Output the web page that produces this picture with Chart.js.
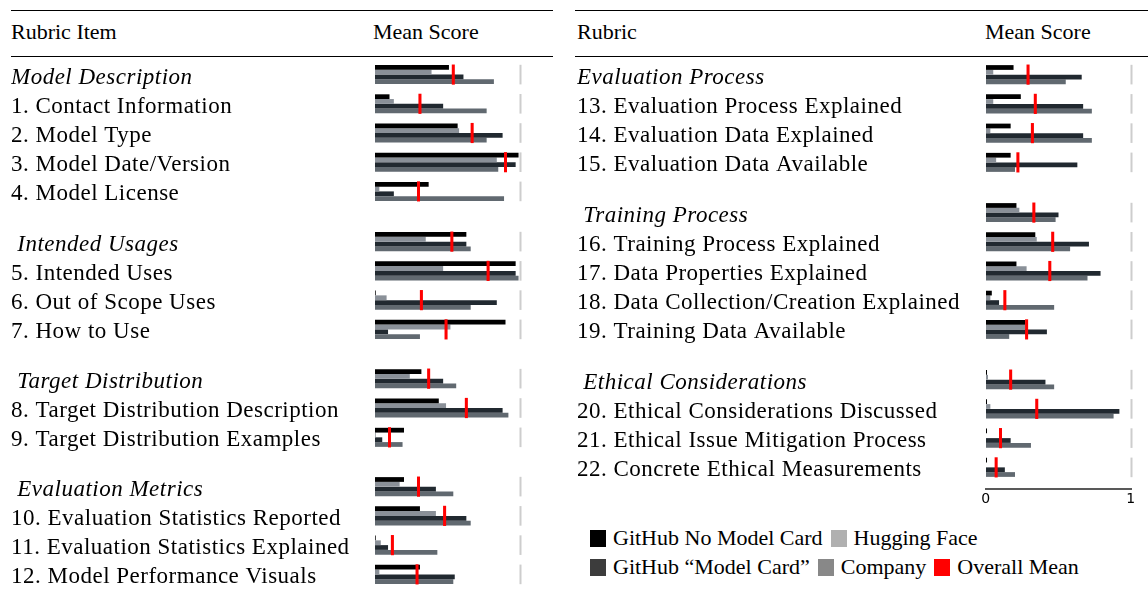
<!DOCTYPE html>
<html>
<head>
<meta charset="utf-8">
<script src="https://cdn.jsdelivr.net/npm/chart.js@4.4.0/dist/chart.umd.min.js"></script>
<style>
  body { margin: 0; width: 1148px; height: 592px; position: relative; overflow: hidden; background: #fff;
         font-family: "Liberation Serif", serif; color: #000; }
  .rule { position: absolute; background: #000; }
  .hdr { position: absolute; font-size: 22px; line-height: 22px; white-space: nowrap; }
  canvas { position: absolute; }
  .legend { position: absolute; left: 590px; font-size: 22px; line-height: 22px; display: flex; align-items: center; white-space: nowrap; }
  .legend .sw { width: 16px; height: 17px; margin-right: 7px; }
  .legend .tx { margin-right: 8px; }
</style>
</head>
<body>
<div class="rule" style="left:11px;top:9.5px;width:542px;height:1.6px"></div>
<div class="rule" style="left:11px;top:56px;width:542px;height:1px"></div>
<div class="rule" style="left:575px;top:9.5px;width:573px;height:1.6px"></div>
<div class="rule" style="left:575px;top:56px;width:573px;height:1px"></div>
<div class="hdr" style="left:11px;top:21px">Rubric Item</div>
<div class="hdr" style="left:373px;top:21px">Mean Score</div>
<div class="hdr" style="left:577px;top:21px">Rubric</div>
<div class="hdr" style="left:985px;top:21px">Mean Score</div>

<div class="legend" style="top:527px">
  <div class="sw" style="background:#000000"></div><span class="tx">GitHub No Model Card</span>
  <div class="sw" style="background:#b0b0b0"></div><span class="tx">Hugging Face</span>
</div>
<div class="legend" style="top:556px">
  <div class="sw" style="background:#3c3c3c"></div><span class="tx">GitHub “Model Card”</span>
  <div class="sw" style="background:#888888"></div><span class="tx">Company</span>
  <div class="sw" style="background:#ff0000"></div><span class="tx">Overall Mean</span>
</div>

<script>
// left table
const leftLabels = [
  "Model Description", "1. Contact Information", "2. Model Type", "3. Model Date/Version", "4. Model License",
  " Intended Usages", "5. Intended Uses", "6. Out of Scope Uses", "7. How to Use",
  " Target Distribution", "8. Target Distribution Description", "9. Target Distribution Examples",
  " Evaluation Metrics", "10. Evaluation Statistics Reported", "11. Evaluation Statistics Explained", "12. Model Performance Visuals"
];
const leftGroupSizes = [5, 4, 3, 4];
const leftNoCard  = [0.51, 0.10, 0.57, 0.99, 0.37, 0.63, 0.97, 0.005, 0.90, 0.32, 0.44, 0.20, 0.20, 0.31, 0.005, 0.31];
const leftHF      = [0.39, 0.13, 0.58, 0.84, 0.03, 0.35, 0.47, 0.08, 0.52, 0.24, 0.49, 0.005, 0.17, 0.42, 0.04, 0.03];
const leftGhCard  = [0.61, 0.47, 0.88, 0.97, 0.13, 0.63, 0.97, 0.84, 0.09, 0.47, 0.88, 0.05, 0.42, 0.63, 0.09, 0.55];
const leftCompany = [0.82, 0.77, 0.77, 0.85, 0.89, 0.66, 0.99, 0.66, 0.31, 0.56, 0.92, 0.19, 0.54, 0.66, 0.43, 0.54];
const leftMean    = [0.54, 0.31, 0.67, 0.90, 0.30, 0.53, 0.78, 0.32, 0.49, 0.37, 0.63, 0.10, 0.30, 0.48, 0.12, 0.29];

// right table
const rightLabels = [
  "Evaluation Process", "13. Evaluation Process Explained", "14. Evaluation Data Explained", "15. Evaluation Data Available",
  " Training Process", "16. Training Process Explained", "17. Data Properties Explained", "18. Data Collection/Creation Explained", "19. Training Data Available",
  " Ethical Considerations", "20. Ethical Considerations Discussed", "21. Ethical Issue Mitigation Process", "22. Concrete Ethical Measurements"
];
const rightGroupSizes = [4, 5, 4];
const rightNoCard  = [0.19, 0.24, 0.17, 0.17, 0.21, 0.34, 0.21, 0.04, 0.27, 0.007, 0.007, 0.007, 0.007];
const rightHF      = [0.05, 0.05, 0.03, 0.07, 0.23, 0.35, 0.28, 0.03, 0.27, 0.014, 0.03, 0, 0];
const rightGhCard  = [0.66, 0.67, 0.67, 0.63, 0.50, 0.71, 0.79, 0.09, 0.42, 0.41, 0.92, 0.17, 0.13];
const rightCompany = [0.55, 0.73, 0.73, 0.20, 0.48, 0.58, 0.70, 0.47, 0.16, 0.47, 0.88, 0.31, 0.20];
const rightMean    = [0.29, 0.34, 0.32, 0.22, 0.33, 0.46, 0.44, 0.13, 0.28, 0.17, 0.35, 0.10, 0.07];

const axisTicks = [0, 1];

Chart.defaults.font.family = "'Liberation Serif', serif";
Chart.defaults.color = "#000";

const ROW = 29.2;

// light grey end marker at 1 on every row
const maxMarker = {
  id: "maxMarker",
  beforeDraw(chart) {
    chart.ctx.letterSpacing = "0.5px"; // row labels run a bit wider in the original
  },
  afterDatasetsDraw(chart) {
    const { ctx, scales: { x, y } } = chart;
    const px = x.getPixelForValue(1);
    ctx.save();
    ctx.fillStyle = "#cdcdcd";
    chart.data.labels.forEach((l, i) => {
      const py = y.getPixelForValue(i);
      ctx.fillRect(px - 0.5, py - 9.8, 2, 19.6);
    });
    ctx.restore();
  },
  afterDraw(chart) {
    chart.ctx.letterSpacing = "0px";
  }
};

// baseline under the last block, sits a bit below the rows
const axisLine = {
  id: "axisLine",
  afterDraw(chart) {
    const { ctx, chartArea, scales: { x } } = chart;
    const yy = chartArea.bottom + 7;
    ctx.save();
    ctx.strokeStyle = "#222";
    ctx.lineWidth = 1.3;
    ctx.beginPath();
    ctx.moveTo(x.getPixelForValue(0) - 1, yy);
    ctx.lineTo(x.getPixelForValue(1) + 1, yy);
    ctx.stroke();
    ctx.restore();
  }
};

function makeGroup(left, top, labelWidth, labels, noCard, hf, ghCard, company, mean, showAxis) {
  const rowsH = Math.round(labels.length * ROW);
  const canvas = document.createElement("canvas");
  canvas.width = labelWidth + 145 + 8;
  canvas.height = rowsH + (showAxis ? 30 : 0);
  canvas.style.left = left + "px";
  canvas.style.top = top + "px";
  document.body.appendChild(canvas);

  new Chart(canvas, {
    type: "bar",
    data: {
      labels: labels,
      datasets: [
        {
          label: "Overall Mean",
          data: mean.map((v) => [v - 0.0105, v + 0.0105]),
          backgroundColor: "#ff0000",
          grouped: false,
          order: -1,
          categoryPercentage: 0.69,
          barPercentage: 1,
        },
        { label: "GitHub No Model Card", data: noCard, backgroundColor: "#000000" },
        { label: "Hugging Face", data: hf, backgroundColor: "#8a9098" },
        { label: "GitHub \u201cModel Card\u201d", data: ghCard, backgroundColor: "#212930" },
        { label: "Company", data: company, backgroundColor: "#616970" },
      ],
    },
    options: {
      indexAxis: "y",
      responsive: false,
      animation: false,
      layout: { padding: { top: 0, bottom: 0, left: 0, right: 8 } },
      datasets: { bar: { categoryPercentage: 0.65, barPercentage: 1 } },
      plugins: { legend: { display: false }, tooltip: { enabled: false } },
      scales: {
        x: {
          min: 0,
          max: 1,
          display: showAxis,
          grid: { display: false, drawTicks: false },
          border: { display: false },
          afterBuildTicks: (scale) => { scale.ticks = axisTicks.map((v) => ({ value: v })); },
          afterFit: (scale) => {
            if (showAxis) scale.height = 30;
            scale.paddingLeft = 0;
            scale.paddingRight = 0;
          },
          ticks: {
            padding: 9,
            font: { family: "'DejaVu Sans', sans-serif", size: 14 },
            color: "#000",
          },
        },
        y: {
          grid: { display: false },
          border: { display: false },
          afterFit: (scale) => {
            scale.width = labelWidth;
            scale.paddingTop = 0;
            scale.paddingBottom = 0;
          },
          ticks: {
            autoSkip: false,
            crossAlign: "far",
            padding: 0,
            labelOffset: 3,
            color: "#000",
            font: (ctx) => ({
              family: "'Liberation Serif', serif",
              size: 23,
              style: ctx.index === 0 ? "italic" : "normal",
            }),
          },
        },
      },
    },
    plugins: showAxis ? [maxMarker, axisLine] : [maxMarker],
  });
}

function makePanel(left, labelWidth, tops, sizes, labels, noCard, hf, ghCard, company, mean) {
  let start = 0;
  sizes.forEach((n, g) => {
    const end = start + n;
    makeGroup(left, tops[g], labelWidth, labels.slice(start, end),
      noCard.slice(start, end), hf.slice(start, end), ghCard.slice(start, end),
      company.slice(start, end), mean.slice(start, end), left > 500 && g === sizes.length - 1);
    start = end;
  });
}

makePanel(11, 364, [60, 227, 364, 472], leftGroupSizes, leftLabels,
  leftNoCard, leftHF, leftGhCard, leftCompany, leftMean);
makePanel(577, 409, [60, 198, 365], rightGroupSizes, rightLabels,
  rightNoCard, rightHF, rightGhCard, rightCompany, rightMean);
</script>
</body>
</html>
